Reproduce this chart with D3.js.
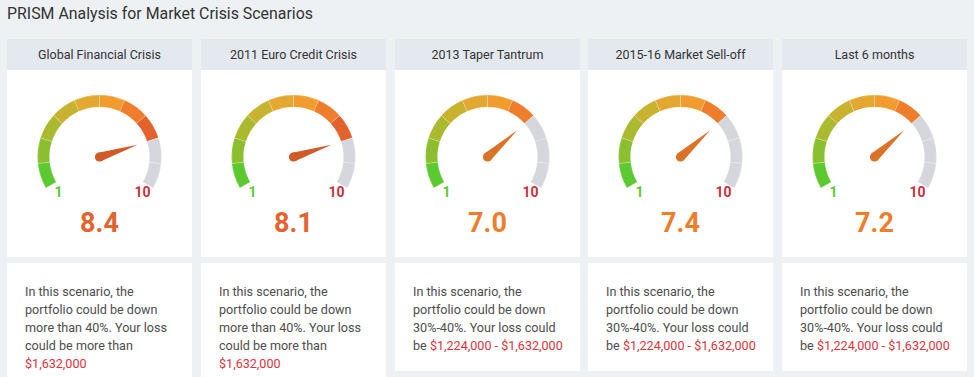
<!DOCTYPE html>
<html><head><meta charset="utf-8">
<script src="https://cdn.jsdelivr.net/npm/d3@7/dist/d3.min.js"></script>
<style>
html,body{margin:0;padding:0;background:#eef1f4;}
svg{display:block;font-family:Roboto,"Noto Sans",sans-serif;}
</style></head>
<body>
<script>
// ---- data ----
const title = "PRISM Analysis for Market Crisis Scenarios";
const scenarios = ["Global Financial Crisis", "2011 Euro Credit Crisis", "2013 Taper Tantrum", "2015-16 Market Sell-off", "Last 6 months"];
const scores = [8.4, 8.1, 7.0, 7.4, 7.2];
const scaleMin = 0, scaleMax = 10;
const scaleLabels = ["1", "10"];
const bandColors = ["#5dc930", "#8cbf2f", "#abb92f", "#c8b22f", "#e3a82f", "#f29b2f", "#ee7d2c", "#e3622e", "#d9472e", "#cf3331"];
const emptyColor = "#d6d7dc";
const textLines = [
  ["In this scenario, the", "portfolio could be down", "more than 40%. Your loss", "could be more than"],
  ["In this scenario, the", "portfolio could be down", "more than 40%. Your loss", "could be more than"],
  ["In this scenario, the", "portfolio could be down", "30%-40%. Your loss could", "be "],
  ["In this scenario, the", "portfolio could be down", "30%-40%. Your loss could", "be "],
  ["In this scenario, the", "portfolio could be down", "30%-40%. Your loss could", "be "]
];
const lossAmounts = ["$1,632,000", "$1,632,000", "$1,224,000 - $1,632,000", "$1,224,000 - $1,632,000", "$1,224,000 - $1,632,000"];
const amountOnNewLine = [true, true, false, false, false];

// ---- layout ----
const W = 974, H = 377;
const panelX0 = 7, panelPitch = 193.8, panelW = 185;
const headTop = 39, headH = 31, gaugeBottom = 257;
const lowTop = 263;

const svg = d3.select("body").append("svg").attr("width", W).attr("height", H);

svg.append("text").attr("x", 7).attr("y", 19)
  .attr("font-size", 15.9).attr("fill", "#333").text(title);

const xPanel = d3.scaleLinear().domain([0, 1]).range([panelX0, panelX0 + panelPitch]);

const angle = d3.scaleLinear().domain([scaleMin, scaleMax]).range([-120, 120]);
const rad = d => d * Math.PI / 180;
const rOuter = 62, rInner = 50;
const arc = d3.arc().innerRadius(rInner).outerRadius(rOuter);

scenarios.forEach((name, i) => {
  const x = Math.round(xPanel(i)), w = panelW;
  const g = svg.append("g");
  const score = scores[i];
  const level = Math.floor(score);
  const col = bandColors[level - 1];

  // upper panel
  g.append("rect").attr("x", x).attr("y", headTop).attr("width", w).attr("height", gaugeBottom - headTop)
    .attr("fill", "#fff");
  g.append("rect").attr("x", x).attr("y", headTop).attr("width", w).attr("height", headH)
    .attr("fill", "#e4e8ef");
  g.append("text").attr("x", x + w / 2).attr("y", headTop + headH / 2 + 4.5)
    .attr("text-anchor", "middle").attr("font-size", 12.5).attr("fill", "#333").text(name);

  // gauge
  const cx = x + w / 2, cy = 157;
  const gg = g.append("g").attr("transform", `translate(${cx},${cy})`);
  gg.selectAll("path.band").data(d3.range(scaleMin, scaleMax)).join("path")
    .attr("class", "band")
    .attr("d", v => arc({startAngle: rad(angle(v)), endAngle: rad(angle(v + 1))}))
    .attr("fill", v => v < level ? bandColors[v] : emptyColor)
    .attr("stroke", "#ffffff").attr("stroke-opacity", 0.35).attr("stroke-width", 0.6);

  // needle
  const a = rad(angle(level));
  const len = 40, bw = 4.6;
  const tip = [len * Math.sin(a), -len * Math.cos(a)];
  const p1 = [bw * Math.cos(a), bw * Math.sin(a)];
  const p2 = [-bw * Math.cos(a), -bw * Math.sin(a)];
  const needleCol = d3.color(col).darker(0.25).formatHex();
  gg.append("path").attr("d", `M${p1}L${tip}L${p2}Z`).attr("fill", needleCol);
  gg.append("circle").attr("r", bw).attr("fill", needleCol);

  // min / max labels
  gg.append("text").attr("x", -41).attr("y", 39.5).attr("text-anchor", "middle")
    .attr("font-size", 14).attr("font-weight", "bold").attr("fill", "#5dc930").text(scaleLabels[0]);
  gg.append("text").attr("x", 43).attr("y", 39.5).attr("text-anchor", "middle")
    .attr("font-size", 14).attr("font-weight", "bold").attr("fill", "#c8323c").text(scaleLabels[1]);

  // value
  g.append("text").attr("x", cx).attr("y", 232).attr("text-anchor", "middle")
    .attr("font-size", 27).attr("font-weight", "bold").attr("fill", col).text(score.toFixed(1));

  // lower panel
  const nLines = textLines[i].length + (amountOnNewLine[i] ? 1 : 0);
  g.append("rect").attr("x", x).attr("y", lowTop).attr("width", w)
    .attr("height", 36 + nLines * 18).attr("fill", "#fff");
  const t = g.append("text").attr("x", x + 18).attr("y", 295.5).attr("font-size", 12.6).attr("fill", "#4d4d4d");
  textLines[i].forEach((ln, j) => {
    t.append("tspan").attr("x", x + 18).attr("y", 295.5 + j * 18.2).text(ln);
  });
  if (amountOnNewLine[i]) {
    t.append("tspan").attr("x", x + 18).attr("y", 295.5 + textLines[i].length * 18.2)
      .attr("fill", "#d9343d").text(lossAmounts[i]);
  } else {
    t.append("tspan").attr("fill", "#d9343d").text(lossAmounts[i]);
  }
});
</script>
</body></html>
